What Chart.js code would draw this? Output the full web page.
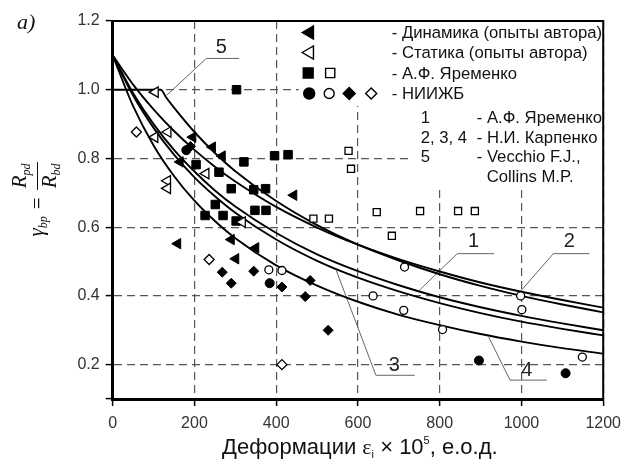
<!DOCTYPE html>
<html><head><meta charset="utf-8">
<script src="https://cdn.jsdelivr.net/npm/chart.js@4/dist/chart.umd.min.js"></script>
<style>
html,body{margin:0;padding:0;background:#fff;}
#wrap{position:relative;width:629px;height:461px;overflow:hidden;background:#fff;}
canvas{position:absolute;left:0;top:0;}
.ov{position:absolute;white-space:nowrap;color:#111;}
#ylab{left:-17px;top:174px;width:108px;height:50px;transform:rotate(-90deg);display:flex;align-items:center;justify-content:center;font:italic 21px 'Liberation Serif','Times New Roman',serif;}
#ylab sub{font-size:12px;vertical-align:-4px;}
.frac{display:inline-flex;flex-direction:column;align-items:center;line-height:22px;}
.frac span{padding:0 2px;}
.frac .den{border-top:1.5px solid #111;}
#xlab{left:222px;top:434px;font:22px 'Liberation Sans',Arial,sans-serif;line-height:26px;}
#xlab .eps{font-family:'Liberation Serif','Times New Roman',serif;}
#xlab sub{font-size:11px;vertical-align:baseline;position:relative;top:4px;}
#xlab sup{font-size:11px;vertical-align:baseline;position:relative;top:-10px;}
</style></head><body>
<div id="wrap">
<canvas id="c" width="629" height="461"></canvas>
<div class="ov" style="left:40px;top:-16px;font:bold 18px 'Liberation Serif',serif;line-height:20px;">элемента.</div>
<div class="ov" style="left:17px;top:9px;font:italic 22px 'Liberation Serif',serif;">а)</div>
<div class="ov" id="ylab"><span>γ<sub>bp</sub></span><span style="font-style:normal;margin:0 7px">=</span><span class="frac"><span>R<sub>pd</sub></span><span class="den">R<sub>bd</sub></span></span></div>
<div class="ov" id="xlab">Деформации <span class="eps">ε</span><sub>i</sub> × 10<sup>5</sup>, е.о.д.</div>
</div>
<script>
// ---- axes ----
const xTickValues = [0, 200, 400, 600, 800, 1000, 1200];
const yTickValues = [0.1, 0.2, 0.4, 0.6, 0.8, 1.0, 1.2];

// ---- theoretical curves ----
const curveX  = [0, 50, 100, 150, 200, 250, 300, 400, 500, 600, 700, 800, 900, 1000, 1100, 1200];
const curve1Y = [1.100, 0.990, 0.900, 0.825, 0.762, 0.707, 0.660, 0.583, 0.521, 0.472, 0.431, 0.396, 0.367, 0.342, 0.320, 0.300];
const curve2Y = [1.100, 1.015, 0.943, 0.880, 0.825, 0.776, 0.733, 0.659, 0.599, 0.549, 0.507, 0.471, 0.439, 0.412, 0.388, 0.366];
const curve3Y = [1.100, 0.983, 0.889, 0.811, 0.745, 0.690, 0.642, 0.564, 0.502, 0.453, 0.413, 0.379, 0.350, 0.325, 0.304, 0.285];
const curve4Y = [1.100, 0.952, 0.838, 0.749, 0.677, 0.618, 0.568, 0.489, 0.430, 0.383, 0.345, 0.315, 0.289, 0.267, 0.248, 0.232];
const curve5X = [0, 118, 130, 150, 200, 250, 300, 400, 500, 600, 700, 800, 900, 1000, 1100, 1200];
const curve5Y = [1.000, 1.000, 0.979, 0.948, 0.877, 0.816, 0.763, 0.676, 0.606, 0.549, 0.503, 0.463, 0.429, 0.400, 0.375, 0.352];

// ---- experimental points ----
const dynamicsX = [159, 165, 196, 244, 268, 290, 301, 350, 443];
const dynamicsY = [0.552, 0.790, 0.862, 0.833, 0.807, 0.564, 0.508, 0.540, 0.693];
const staticsX  = [104, 103, 135, 134, 134, 228, 317];
const staticsY  = [0.993, 0.862, 0.877, 0.735, 0.713, 0.756, 0.615];
const yarFilledX = [303, 321, 396, 429, 204, 260, 290, 345, 374, 251, 226, 270, 348, 375, 302];
const yarFilledY = [1.000, 0.790, 0.808, 0.811, 0.782, 0.760, 0.712, 0.709, 0.712, 0.666, 0.634, 0.634, 0.649, 0.649, 0.618];
const yarOpenX = [577, 583, 491, 529, 646, 752, 845, 886, 683];
const yarOpenY = [0.822, 0.770, 0.625, 0.625, 0.644, 0.647, 0.647, 0.647, 0.575];
const niiCircleFilledX = [180, 384, 896, 1108];
const niiCircleFilledY = [0.824, 0.437, 0.212, 0.175];
const niiCircleOpenX = [382, 414, 714, 637, 712, 807, 998, 1001, 1149];
const niiCircleOpenY = [0.476, 0.474, 0.484, 0.400, 0.358, 0.302, 0.400, 0.360, 0.222];
const niiDiamondFilledX = [190, 268, 290, 345, 414, 471, 483, 527];
const niiDiamondFilledY = [0.835, 0.469, 0.437, 0.472, 0.426, 0.398, 0.445, 0.300];
const niiDiamondOpenX = [58, 236, 414];
const niiDiamondOpenY = [0.877, 0.506, 0.200];

// ---- curve callouts ----
const calloutNames = ['5', '1', '2', '3', '4'];
const calloutTextX = [266, 883, 1117, 689, 1013];
const calloutTextY = [1.123, 0.557, 0.557, 0.198, 0.183];
const calloutPathX = [[132, 229, 309], [750, 843, 933], [996, 1078, 1166], [547, 644, 739], [920, 972, 1062]];
const calloutPathY = [[0.984, 1.091, 1.091], [0.416, 0.523, 0.523], [0.411, 0.523, 0.523], [0.474, 0.169, 0.169], [0.280, 0.155, 0.155]];

// ---- legend texts ----
const legendRows = ['- Динамика (опыты автора)', '- Статика (опыты автора)', '- А.Ф. Яременко', '- НИИЖБ'];
const curveLegendNums = ['1', '2, 3, 4', '5', ''];
const curveLegendNames = ['- А.Ф. Яременко', '- Н.И. Карпенко', '- Vecchio F.J.,', 'Collins M.P.'];

const pts = (xs, ys) => xs.map((x, i) => ({x: x, y: ys[i]}));

function scatterSet(label, xs, ys, style, r, filled, rot) {
  return {
    type: 'scatter', label: label, data: pts(xs, ys),
    pointStyle: style, pointRadius: r, rotation: rot || 0,
    backgroundColor: filled ? '#000' : '#fff', borderColor: '#000',
    borderWidth: filled ? 1 : 1.3, clip: false
  };
}
function curveSet(label, xs, ys) {
  return {
    type: 'line', label: label, data: pts(xs, ys), borderColor: '#000', borderWidth: 1.9,
    pointRadius: 0, fill: false, cubicInterpolationMode: 'monotone'
  };
}

const datasets = [
  scatterSet('Динамика', dynamicsX, dynamicsY, 'triangle', 6, true, -90),
  scatterSet('Статика', staticsX, staticsY, 'triangle', 6, false, -90),
  scatterSet('Яременко ■', yarFilledX, yarFilledY, 'rect', 6, true),
  scatterSet('Яременко □', yarOpenX, yarOpenY, 'rect', 5, false),
  scatterSet('НИИЖБ ●', niiCircleFilledX, niiCircleFilledY, 'circle', 4.5, true),
  scatterSet('НИИЖБ ○', niiCircleOpenX, niiCircleOpenY, 'circle', 4, false),
  scatterSet('НИИЖБ ◆', niiDiamondFilledX, niiDiamondFilledY, 'rectRot', 5, true),
  scatterSet('НИИЖБ ◇', niiDiamondOpenX, niiDiamondOpenY, 'rectRot', 5, false),
  curveSet('1', curveX, curve1Y),
  curveSet('2', curveX, curve2Y),
  curveSet('3', curveX, curve3Y),
  curveSet('4', curveX, curve4Y),
  curveSet('5', curve5X, curve5Y)
];
calloutPathX.forEach((xs, i) => {
  datasets.push({type: 'line', label: 'callout ' + calloutNames[i], data: pts(xs, calloutPathY[i]),
    borderColor: '#666', borderWidth: 1, pointRadius: 0, tension: 0, fill: false, clip: false});
});

function mark(ctx, style, cx, cy, r, filled) {
  ctx.beginPath();
  if (style === 'tri') {
    ctx.moveTo(cx - r, cy); ctx.lineTo(cx + r / 2, cy - r * 0.866); ctx.lineTo(cx + r / 2, cy + r * 0.866); ctx.closePath();
  } else if (style === 'rect') {
    const s = r * 0.7071; ctx.rect(cx - s, cy - s, 2 * s, 2 * s);
  } else if (style === 'circle') {
    ctx.arc(cx, cy, r, 0, Math.PI * 2);
  } else {
    ctx.moveTo(cx - r, cy); ctx.lineTo(cx, cy - r); ctx.lineTo(cx + r, cy); ctx.lineTo(cx, cy + r); ctx.closePath();
  }
  ctx.fillStyle = filled ? '#000' : '#fff'; ctx.fill();
  ctx.lineWidth = 1.4; ctx.strokeStyle = '#000'; ctx.stroke();
}

const decor = {
  id: 'decor',
  beforeDatasetsDraw(chart) {
    const ctx = chart.ctx, a = chart.chartArea;
    ctx.save();
    ctx.fillStyle = '#fff';
    ctx.fillRect(a.left + 186, a.top + 1, a.right - a.left - 187, 84);
    ctx.fillRect(a.left + 300, a.top + 1, a.right - a.left - 301, 166);
    ctx.restore();
  },
  afterDatasetsDraw(chart) {
    const ctx = chart.ctx, a = chart.chartArea, xs = chart.scales.x, ys = chart.scales.y;
    ctx.save();
    // frame top & right
    ctx.strokeStyle = '#000'; ctx.lineWidth = 2;
    ctx.beginPath(); ctx.moveTo(a.left, a.top); ctx.lineTo(a.right, a.top); ctx.lineTo(a.right, a.bottom); ctx.stroke();
    // callout numbers
    ctx.fillStyle = '#222'; ctx.font = "20px 'Liberation Sans', Arial, sans-serif";
    ctx.textAlign = 'center'; ctx.textBaseline = 'middle';
    calloutNames.forEach((n, i) => ctx.fillText(n, xs.getPixelForValue(calloutTextX[i]), ys.getPixelForValue(calloutTextY[i])));
    // legend markers
    const L = a.left, T = a.top;
    mark(ctx, 'tri', L + 197, T + 11.5, 7.5, true);
    mark(ctx, 'tri', L + 197, T + 31.5, 7.5, false);
    mark(ctx, 'rect', L + 195.5, T + 52, 7, true);
    mark(ctx, 'rect', L + 217.5, T + 52, 6.5, false);
    mark(ctx, 'circle', L + 196.5, T + 72.5, 5.5, true);
    mark(ctx, 'circle', L + 216.5, T + 72.5, 5, false);
    mark(ctx, 'diamond', L + 236.5, T + 72.5, 6, true);
    mark(ctx, 'diamond', L + 258.5, T + 72.5, 5.5, false);
    // legend texts
    ctx.fillStyle = '#111'; ctx.font = "16.7px 'Liberation Sans', Arial, sans-serif";
    ctx.textAlign = 'left';
    legendRows.forEach((t, i) => ctx.fillText(t, L + 279, T + 12.5 + i * 20.3));
    curveLegendNums.forEach((t, i) => ctx.fillText(t, L + 308, T + 97.5 + i * 19.5));
    curveLegendNames.forEach((t, i) => ctx.fillText(t, L + (i === 3 ? 374 : 364), T + 97.5 + i * 19.5));
    ctx.restore();
  }
};

const tickFont = {family: "'Liberation Sans', Arial, sans-serif", size: 16};
new Chart(document.getElementById('c'), {
  type: 'scatter',
  data: {datasets: datasets},
  options: {
    responsive: false, animation: false, devicePixelRatio: 1, events: [],
    layout: {padding: {left: 0, right: 22, top: 21, bottom: 0}},
    plugins: {legend: {display: false}, tooltip: {enabled: false}},
    scales: {
      x: {
        type: 'linear', min: 0, max: 1200,
        afterBuildTicks: ax => { ax.ticks = xTickValues.map(v => ({value: v})); },
        afterFit: ax => { ax.height = 62; },
        ticks: {font: tickFont, color: '#333', padding: 8, maxRotation: 0, autoSkip: false, callback: v => String(v)},
        grid: {color: '#555', lineWidth: 1.2, tickColor: '#000', tickLength: 7, tickWidth: 1.5},
        border: {color: '#000', width: 3, dash: [8, 5]}
      },
      y: {
        type: 'linear', min: 0.1, max: 1.2,
        afterBuildTicks: ax => { ax.ticks = yTickValues.map(v => ({value: v})); },
        afterFit: ax => { ax.width = 112.7; },
        ticks: {font: tickFont, color: '#333', padding: 6, autoSkip: false, callback: v => (v < 0.15 ? '' : v.toFixed(1))},
        grid: {color: '#555', lineWidth: 1.2, tickColor: '#000', tickLength: 7, tickWidth: 1.5},
        border: {color: '#000', width: 3, dash: [8, 5]}
      }
    }
  },
  plugins: [decor]
});
</script>
</body></html>
